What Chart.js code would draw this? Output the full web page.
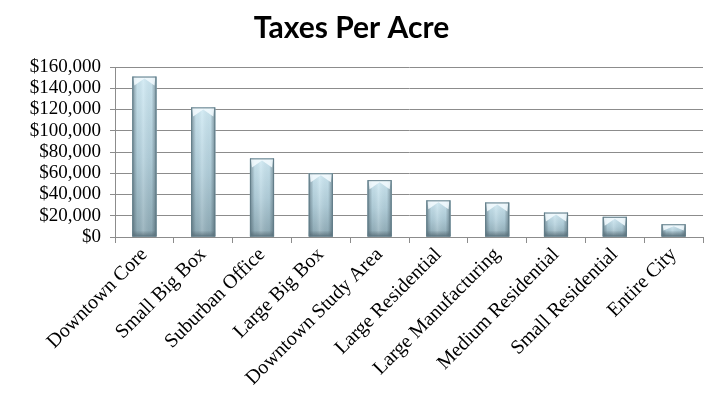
<!DOCTYPE html>
<html>
<head>
<meta charset="utf-8">
<title>Taxes Per Acre</title>
<script src="https://cdn.jsdelivr.net/npm/chart.js@4"></script>
<style>
  html, body { margin: 0; padding: 0; background: #fff; }
  #wrap { width: 719px; height: 402px; }
</style>
</head>
<body>
<div id="wrap"><canvas id="taxChart" width="719" height="402"></canvas></div>
<script>
const categories = [
    "Downtown Core", "Small Big Box", "Suburban Office", "Large Big Box",
    "Downtown Study Area", "Large Residential", "Large Manufacturing",
    "Medium Residential", "Small Residential", "Entire City"
];
const taxesPerAcre = [151000, 122000, 74000, 60000, 53500, 34500, 32500, 23000, 19000, 12000];
const yTickValues = [0, 20000, 40000, 60000, 80000, 100000, 120000, 140000, 160000];

// bevelled glassy look for each bar, painted over the plain fill
const barShading = {
    id: "barShading",
    afterDatasetsDraw(chart) {
        const c = chart.ctx;
        chart.getDatasetMeta(0).data.forEach(function (bar) {
            const p = bar.getProps(["x", "y", "base", "width"], true);
            const l = p.x - p.width / 2, r = p.x + p.width / 2;
            const t = p.y, b = p.base, w = p.width, h = b - t;

            c.save();
            // light blue at the top fading to grey-blue at the bottom
            let gv = c.createLinearGradient(0, t, 0, b);
            gv.addColorStop(0, "#cfe9f3");
            gv.addColorStop(0.5, "#b3d0dc");
            gv.addColorStop(1, "#8eaab5");
            c.fillStyle = gv;
            c.fillRect(l, t, w, h);

            // darker sides
            let gh = c.createLinearGradient(l, 0, r, 0);
            gh.addColorStop(0, "rgba(55,75,85,0.55)");
            gh.addColorStop(0.2, "rgba(55,75,85,0.05)");
            gh.addColorStop(0.45, "rgba(255,255,255,0.15)");
            gh.addColorStop(0.8, "rgba(55,75,85,0.05)");
            gh.addColorStop(1, "rgba(55,75,85,0.55)");
            c.fillStyle = gh;
            c.fillRect(l, t, w, h);

            // darker band along the bottom
            const bandH = Math.min(6, h / 2);
            let gb = c.createLinearGradient(0, b - bandH, 0, b);
            gb.addColorStop(0, "rgba(80,100,110,0)");
            gb.addColorStop(1, "rgba(80,100,110,0.7)");
            c.fillStyle = gb;
            c.fillRect(l, b - bandH, w, bandH);

            // light chevron cap at the top
            const capH = Math.min(9, h / 2);
            c.fillStyle = "rgba(245,252,255,0.85)";
            c.beginPath();
            c.moveTo(l + 1, t);
            c.lineTo(r - 1, t);
            c.lineTo(r - 2, t + capH);
            c.lineTo(p.x, t + 2);
            c.lineTo(l + 2, t + capH);
            c.closePath();
            c.fill();

            c.strokeStyle = "#627d88";
            c.lineWidth = 1;
            c.strokeRect(l + 0.5, t + 0.5, w - 1, h - 1);
            c.restore();
        });
    }
};

const ctx = document.getElementById("taxChart").getContext("2d");

new Chart(ctx, {
    type: "bar",
    data: {
        labels: categories,
        datasets: [{
            label: "Taxes Per Acre",
            data: taxesPerAcre,
            backgroundColor: "#a9c7d3",
            categoryPercentage: 1.0,
            barPercentage: 0.41
        }]
    },
    options: {
        responsive: false,
        animation: false,
        layout: { padding: { left: 0, right: 16, top: 0, bottom: 0 } },
        plugins: {
            legend: { display: false },
            tooltip: { enabled: false },
            title: {
                display: true,
                text: "Taxes Per Acre",
                color: "#000",
                font: { family: "Lato", size: 30, weight: "bold" },
                padding: { top: 10, bottom: 21 }
            }
        },
        scales: {
            x: {
                offset: true,
                grid: { display: true, drawOnChartArea: false, tickLength: 6, color: "#8c8c8c", offset: true },
                border: { color: "#8c8c8c" },
                ticks: {
                    autoSkip: false,
                    maxRotation: 45,
                    minRotation: 45,
                    color: "#000",
                    padding: 0,
                    font: { family: "Liberation Serif", size: 20 }
                },
                afterFit(scale) { scale.height = 165; }
            },
            y: {
                min: 0,
                max: 160000,
                afterBuildTicks(scale) {
                    scale.ticks = yTickValues.map(function (v) { return { value: v }; });
                },
                grid: { color: "#8c8c8c", tickLength: 5 },
                border: { color: "#8c8c8c" },
                ticks: {
                    autoSkip: false,
                    color: "#000",
                    padding: 9,
                    font: { family: "Liberation Serif", size: 19 },
                    callback: function (v) { return "$" + v.toLocaleString("en-US"); }
                },
                afterFit(scale) { scale.width = 115; }
            }
        }
    },
    plugins: [barShading]
});
</script>
</body>
</html>
